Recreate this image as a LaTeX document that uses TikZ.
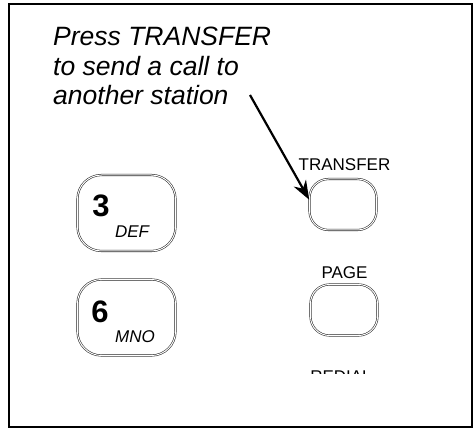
\documentclass[tikz,border=0pt]{standalone}
\usepackage{fontspec}
\setmainfont{Liberation Sans}
\usetikzlibrary{arrows.meta}

\begin{document}
\begin{tikzpicture}[x=1pt, y=-1pt]
			\tikzset{key/.style={draw = black!85, double = white, double distance = 1pt, line width = 0.55pt,
					rounded corners = 24pt, minimum width = 98pt, minimum height = 76pt, inner sep = 0pt}}
			\tikzset{softkey/.style={key, rounded corners = 19pt, minimum width = 67pt, minimum height = 51pt}}
			\tikzset{digit/.style={font = \fontsize{31}{31}\selectfont\bfseries, inner sep = 0pt}}
			\tikzset{letters/.style={font = \fontsize{17}{17}\selectfont\itshape, inner sep = 0pt}}
			\tikzset{btnlabel/.style={font = \fontsize{17}{17}\selectfont, inner sep = 0pt}}
			\tikzset{pointer/.style={-{Stealth[length = 19pt, width = 14pt]}, line width = 2.2pt}}
			\useasboundingbox (0, 0) rectangle (475, 428);
			%frame
			\draw[line width = 2pt] (9, 4) rectangle (472, 427);
			%note
			\node[anchor = base west, align = left, inner sep = 0pt,
				font = \fontsize{26.5}{29.5}\selectfont\itshape] (note) at (53, 105)
				{Press TRANSFER\\to send a call to\\another station};
			%dial keys
			\node[key] (key3) at (126.5, 213) {};
			\node[digit] (d3) at (101, 206) {3};
			\node[letters] (def) at (132, 232) {DEF};
			\node[key] (key6) at (126.5, 317.5) {};
			\node[digit] (d6) at (100, 311.5) {6};
			\node[letters] (mno) at (135, 337) {MNO};
			%feature keys
			\node[btnlabel] (ltransfer) at (344.5, 165) {TRANSFER};
			\node[softkey] (transfer) at (343, 204.5) {};
			\node[btnlabel] (lpage) at (344.5, 272.5) {PAGE};
			\node[softkey] (page) at (344, 310) {};
			\begin{scope}
				\clip (290, 360) rectangle (400, 373);
				\node[btnlabel] (lredial) at (341, 377) {REDIAL};
			\end{scope}
			%arrow
			\coordinate (tail) at (250, 95);
			\draw[pointer] (tail) -- (transfer.172);
\end{tikzpicture}
\end{document}
